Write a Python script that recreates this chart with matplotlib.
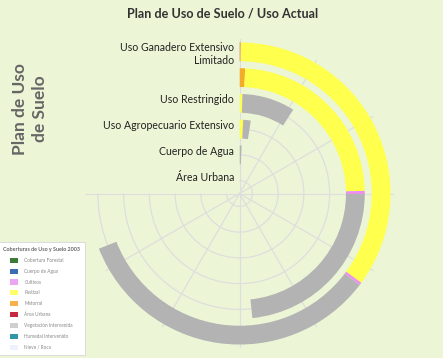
import numpy as np
import matplotlib
matplotlib.use("Agg")
import matplotlib.pyplot as plt
from matplotlib.patches import Patch

plt.rcParams["font.family"] = ["Lato", "DejaVu Sans"]

# rings, inner to outer
rings = ["Área Urbana", "Cuerpo de Agua", "Uso Agropecuario Extensivo",
         "Uso Restringido", "", "Uso Ganadero Extensivo\nLimitado"]

# share of each cover class per ring (% of full circle), stacked clockwise
area_urbana = [0.0, 0.0, 0.0, 0.0, 0.0, 0.12]
matorral = [0.0, 0.0, 0.0, 0.0, 0.72, 0.0]
pastizal = [0.0, 0.0, 0.8, 0.47, 23.95, 34.95]
cultivos = [0.0, 0.0, 0.0, 0.0, 0.39, 0.28]
veg_intervenida = [0.0, 0.7, 1.65, 8.6, 23.3, 33.7]

stack = [
    (area_urbana, "#d9506e"),
    (matorral, "#f5ab2a"),
    (pastizal, "#ffff4d"),
    (cultivos, "#ee8cf0"),
    (veg_intervenida, "#b3b3b3"),
]

legend_title = "Coberturas de Uso y Suelo 2003"
legend_labels = ["Cobertura Forestal", "Cuerpo de Agua", "Cultivos", "Pastizal",
                 "Matorral", "Área Urbana", "Vegetación Intervenida",
                 "Humedal Intervenido", "Nieve / Roca"]
legend_colors = ["#3c7a35", "#3a6db5", "#eaa6f2", "#ffff66", "#f7b04d",
                 "#c62a40", "#cfcfcf", "#3396a8", "#eef2ff"]

bg = "#ecf6d6"
fig = plt.figure(figsize=(4.43, 3.58), dpi=100, facecolor=bg)
ax = fig.add_axes([85 / 443, 7 / 358, 312 / 443, 312 / 358], projection="polar")
ax.set_facecolor(bg)
ax.set_theta_zero_location("N")
ax.set_theta_direction(-1)
ax.set_thetamin(0)
ax.set_thetamax(270)

to_rad = 2 * np.pi / 100.0
ypos = np.arange(len(rings)) + 0.5
left = np.zeros(len(rings))
for vals, col in stack:
    vals = np.array(vals)
    ax.barh(ypos, vals * to_rad, left=left * to_rad, height=0.73,
            color=col, linewidth=0, zorder=2)
    left += vals

ax.set_ylim(0, len(rings))
ax.set_xticks(np.deg2rad(np.arange(0, 271, 30)))
ax.set_xticklabels([])
ax.set_yticks(ypos)
ax.set_yticklabels([])
ax.tick_params(length=0, width=0)
ax.grid(True, color="#dedede", linewidth=0.9)
ax.set_axisbelow(True)
# polar axes turn start/end spines back on at draw time, so blank them instead
for name in ["polar", "start", "end", "inner"]:
    ax.spines[name].set_edgecolor("none")
    ax.spines[name].set_linewidth(0)

# labels sit with the first line's baseline on the ring centre
line_h = 8.6
for y, name in zip(ypos, rings):
    extra = name.count("\n")
    ax.annotate(name, xy=(0, y), xytext=(-4, -extra * line_h),
                textcoords="offset points", ha="right", va="baseline",
                fontsize=7.6, color="#222222", multialignment="right",
                linespacing=1.22)

fig.text(223 / 443, 1 - 14 / 358, "Plan de Uso de Suelo / Uso Actual",
         ha="center", va="center", fontsize=9.1, fontweight="bold", color="#333333")
fig.text(30 / 443, 1 - 109 / 358, "Plan de Uso\nde Suelo", rotation=90,
         ha="center", va="center", fontsize=12.5, fontweight="bold",
         color="#666666", linespacing=1.35)

handles = [Patch(facecolor=c, edgecolor="none") for c in legend_colors]
leg = fig.legend(handles, legend_labels, title=legend_title,
                 loc="lower left", bbox_to_anchor=(-2 / 443, 3 / 358),
                 fontsize=3.4, title_fontsize=3.9, frameon=True,
                 facecolor="white", edgecolor="#d8d8d8", framealpha=1,
                 fancybox=False, handlelength=1.7, handleheight=1.3,
                 labelspacing=1.2, borderpad=1.1, handletextpad=1.3,
                 borderaxespad=0)
leg.get_frame().set_linewidth(0.6)
for t in leg.get_texts():
    t.set_color("#888888")
leg.get_title().set_color("#666666")
leg.get_title().set_fontweight("bold")

fig.savefig("out.png", dpi=100, facecolor=bg)
